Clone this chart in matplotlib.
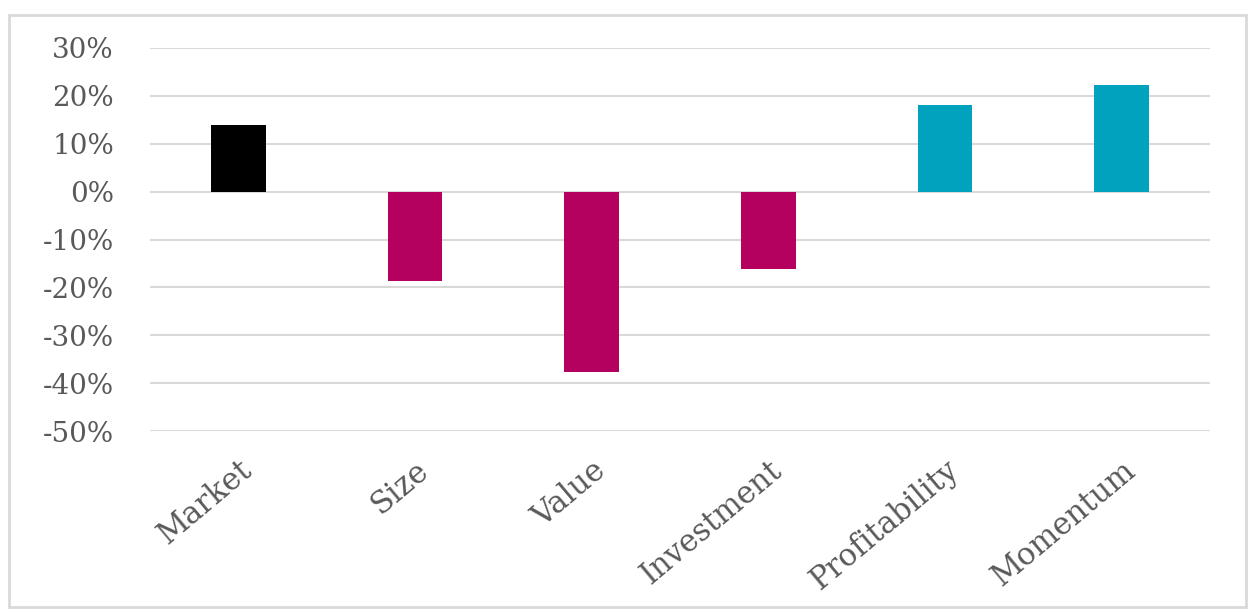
import matplotlib.pyplot as plt
from matplotlib.patches import Rectangle
from matplotlib.ticker import FuncFormatter

# factor returns (in %)
factors = ["Market", "Size", "Value", "Investment", "Profitability", "Momentum"]
returns = [13.9, -18.6, -37.6, -16.2, 18.1, 22.2]
bar_colors = ["#000000", "#B4005F", "#B4005F", "#B4005F", "#00A2BD", "#00A2BD"]
y_ticks = [-50, -40, -30, -20, -10, 0, 10, 20, 30]

fig = plt.figure(figsize=(12.57, 6.12), dpi=100)
ax = fig.add_axes([150 / 1257, 1 - 431 / 612, 1060 / 1257, 383 / 612])

x = range(len(factors))
ax.bar(x, returns, width=0.31, color=bar_colors, zorder=3)

ax.set_xlim(-0.5, len(factors) - 0.5)
ax.set_ylim(-50, 30)
ax.set_yticks(y_ticks)
ax.yaxis.set_major_formatter(FuncFormatter(lambda v, p: "%d%%" % v))
ax.grid(axis="y", color="#d9d9d9", linewidth=1.5, zorder=0)

for s in ax.spines.values():
    s.set_visible(False)
ax.tick_params(axis="both", length=0, labelsize=20, labelcolor="#595959")
ax.tick_params(axis="y", pad=26)
for t in ax.get_yticklabels():
    t.set_fontfamily("DejaVu Serif")

ax.set_xticks(list(x))
ax.set_xticklabels(factors, rotation=40, ha="right", rotation_mode="anchor",
                   fontfamily="DejaVu Serif", fontsize=22, color="#595959")
ax.tick_params(axis="x", pad=17)

# light frame around the whole chart
fig.patches.append(Rectangle((9 / 1257, 1 - 607 / 612), 1237 / 1257, 592 / 612,
                             transform=fig.transFigure, fill=False,
                             edgecolor="#d9d9d9", linewidth=2))

fig.savefig("out.png", dpi=100)
